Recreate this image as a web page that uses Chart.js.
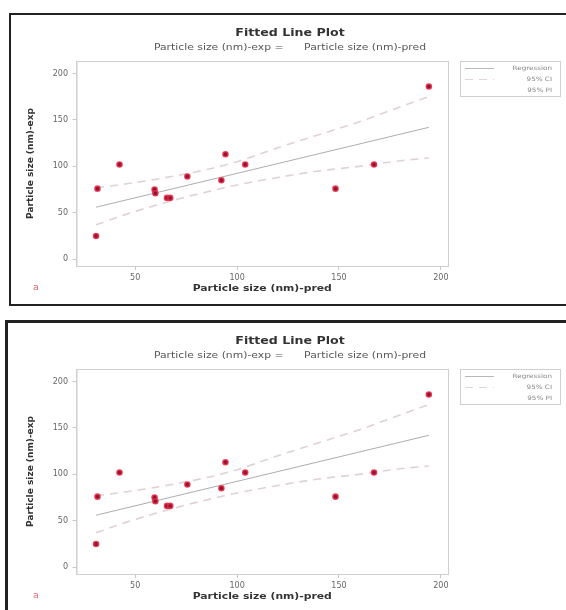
<!DOCTYPE html>
<html>
<head>
<meta charset="utf-8">
<script src="https://cdn.jsdelivr.net/npm/chart.js@4"></script>
<style>
    body { margin: 0; background: #fff; overflow: hidden; width: 566px; height: 610px; position: relative; }
    .panel { position: absolute; border: 2px solid #222; box-sizing: border-box; }
    #panel-top { left: 9px; top: 13px; width: 570px; height: 293px; }
    #panel-bottom { left: 5px; top: 320px; width: 575px; height: 300px; border-width: 3px; }
    .chart-box { position: absolute; left: 11px; width: 560px; height: 288px; }
    #box-top { top: 15px; }
    #box-bottom { top: 323px; }
</style>
</head>
<body>
<div class="panel" id="panel-top"></div>
<div class="panel" id="panel-bottom"></div>
<div class="chart-box" id="box-top"><canvas id="chart-top" width="560" height="288"></canvas></div>
<div class="chart-box" id="box-bottom"><canvas id="chart-bottom" width="560" height="288"></canvas></div>
<script>
// Observed points
const predX = [31.5, 30.8, 42.3, 59.5, 59.9, 65.6, 67.2, 75.6, 92.3, 94.3, 104, 148.3, 167.2, 194.1];
const expY = [76, 25, 102, 75, 71, 66, 66, 89, 85, 113, 102, 76, 102, 186];

// Fitted line (end points)
const fitX = [30.8, 194.1];
const fitY = [56, 142];

// 95% confidence band
const ciX = [30.8, 45, 60, 75, 88, 100, 120, 140, 160, 180, 194.1];
const ciUpper = [77, 81, 86, 92, 98, 105, 120, 134, 148, 164, 175];
const ciLower = [37, 48, 58, 67, 74, 80, 88, 95, 100, 106, 109];

// Axis ticks
const xTicks = [50, 100, 150, 200];
const yTicks = [0, 50, 100, 150, 200];

const legendLabels = ['Regression', '95% CI', '95% PI'];
const titleText = 'Fitted Line Plot';
const subtitleText = 'Particle size (nm)-exp =      Particle size (nm)-pred';
const xTitleText = 'Particle size (nm)-pred';
const yTitleText = 'Particle size (nm)-exp';

document.addEventListener('DOMContentLoaded', function() {
    const FONT = 'DejaVu Sans';
    const STRETCH = 1.2; // the source picture is a bit wider than tall

    function toPoints(xs, ys) {
        return xs.map((x, i) => ({ x: x, y: ys[i] }));
    }

    // text drawn a little wider, like in the picture
    function wideText(ctx, text, x, y, font, color, align) {
        ctx.save();
        ctx.font = font;
        ctx.fillStyle = color;
        ctx.textAlign = align || 'center';
        ctx.textBaseline = 'middle';
        ctx.translate(x, y);
        ctx.scale(STRETCH, 1);
        ctx.fillText(text, 0, 0);
        ctx.restore();
    }

    // Titles, frame around plot area, legend box and the "a" mark
    const decorPlugin = {
        id: 'decor',
        afterDraw(chart) {
            const ctx = chart.ctx;
            const a = chart.chartArea;
            ctx.save();
            ctx.strokeStyle = '#cfcfcf';
            ctx.lineWidth = 1;
            ctx.strokeRect(a.left + 0.5, a.top + 0.5, a.right - a.left, a.bottom - a.top);

            wideText(ctx, titleText, 279, 18.5, 'bold 10.5px ' + FONT, '#333');
            wideText(ctx, subtitleText, 279, 32.5, '9px ' + FONT, '#555');
            wideText(ctx, xTitleText, (a.left + a.right) / 2, 274, 'bold 9px ' + FONT, '#333');

            // legend
            const lx = 449, ly = 46, lw = 100, lh = 35;
            ctx.strokeStyle = '#d0d0d0';
            ctx.strokeRect(lx + 0.5, ly + 0.5, lw, lh);
            legendLabels.forEach((label, i) => {
                const y = ly + 7.5 + i * 11;
                wideText(ctx, label, lx + lw - 8, y, '6px ' + FONT, '#888', 'right');
                if (i < 2) {
                    ctx.strokeStyle = i === 0 ? '#b8b8b8' : '#e0d4d4';
                    ctx.lineWidth = 1;
                    ctx.setLineDash(i === 0 ? [] : [8, 6]);
                    ctx.beginPath();
                    ctx.moveTo(lx + 5, y);
                    ctx.lineTo(lx + 34, y);
                    ctx.stroke();
                    ctx.setLineDash([]);
                }
            });

            // panel letter
            wideText(ctx, 'a', 25, 273, '8px ' + FONT, '#e06a78');
            ctx.restore();
        }
    };

    function makeChart(canvasId) {
        const ctx = document.getElementById(canvasId).getContext('2d');
        return new Chart(ctx, {
            type: 'scatter',
            data: {
                datasets: [
                    {
                        label: 'Observed',
                        data: toPoints(predX, expY),
                        pointRadius: 2.5,
                        pointBackgroundColor: '#8e1630',
                        pointBorderColor: 'rgba(230, 40, 70, 0.85)',
                        pointBorderWidth: 1.6,
                        showLine: false,
                        order: 0
                    },
                    {
                        label: 'Regression',
                        data: toPoints(fitX, fitY),
                        showLine: true,
                        borderColor: '#adadad',
                        borderWidth: 1,
                        pointRadius: 0,
                        order: 1
                    },
                    {
                        label: '95% CI',
                        data: toPoints(ciX, ciUpper),
                        showLine: true,
                        borderColor: '#e0d2d2',
                        borderWidth: 1.6,
                        borderDash: [8, 6],
                        cubicInterpolationMode: 'monotone',
                        pointRadius: 0,
                        order: 2
                    },
                    {
                        label: '95% CI lower',
                        data: toPoints(ciX, ciLower),
                        showLine: true,
                        borderColor: '#e0d2d2',
                        borderWidth: 1.6,
                        borderDash: [8, 6],
                        cubicInterpolationMode: 'monotone',
                        pointRadius: 0,
                        order: 2
                    }
                ]
            },
            options: {
                responsive: false,
                animation: false,
                events: [],
                layout: { padding: { top: 46 } },
                plugins: {
                    legend: { display: false },
                    tooltip: { enabled: false }
                },
                scales: {
                    x: {
                        type: 'linear',
                        min: 21.2,
                        max: 203.5,
                        afterBuildTicks: scale => { scale.ticks = xTicks.map(v => ({ value: v })); },
                        afterFit: scale => { scale.height = 37; },
                        grid: { drawOnChartArea: false, tickLength: 4, color: '#c8c8c8' },
                        border: { color: '#cfcfcf' },
                        ticks: { color: '#666', padding: 3, font: { family: FONT, size: 8 } }
                    },
                    y: {
                        type: 'linear',
                        min: -7.3,
                        max: 213.4,
                        afterBuildTicks: scale => { scale.ticks = yTicks.map(v => ({ value: v })); },
                        afterFit: scale => { scale.width = 65.5; },
                        grid: { drawOnChartArea: false, tickLength: 4, color: '#c8c8c8' },
                        border: { color: '#cfcfcf' },
                        ticks: { color: '#666', padding: 4.5, font: { family: FONT, size: 8 } },
                        title: {
                            display: true,
                            text: yTitleText,
                            color: '#333',
                            font: { family: FONT, size: 9, weight: 'bold' },
                            padding: { top: 14.6, bottom: 0 }
                        }
                    },
                    // empty axis that keeps room for the legend on the right
                    spacer: {
                        type: 'linear',
                        position: 'right',
                        afterFit: scale => { scale.width = 123; },
                        grid: { display: false },
                        border: { display: false },
                        ticks: { display: false }
                    }
                }
            },
            plugins: [decorPlugin]
        });
    }

    makeChart('chart-top');
    makeChart('chart-bottom');
});
</script>
</body>
</html>
